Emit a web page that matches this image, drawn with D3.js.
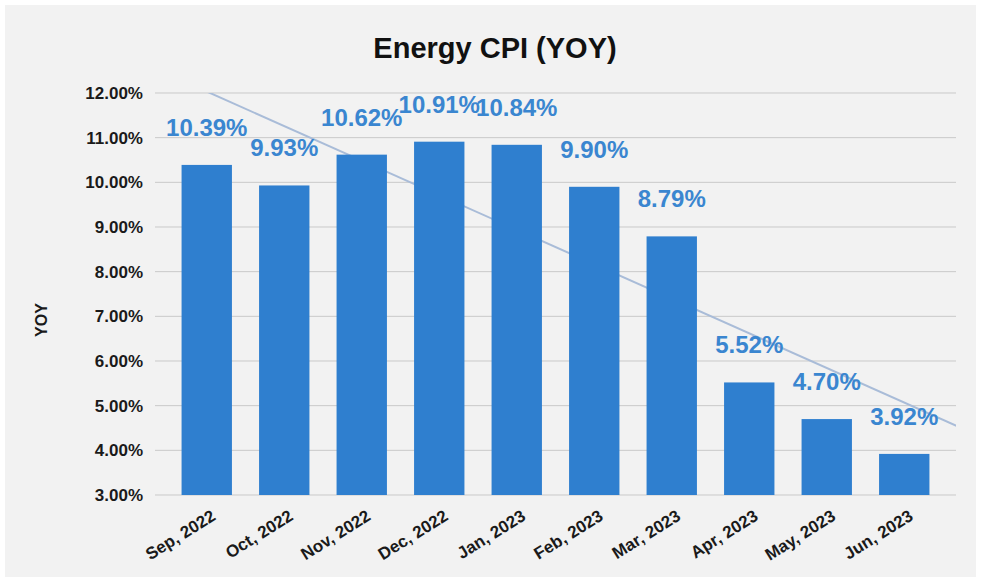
<!DOCTYPE html>
<html>
<head>
<meta charset="utf-8">
<script src="https://cdn.jsdelivr.net/npm/d3@7"></script>
<style>
  body { margin: 0; background: #fff; }
  text { font-family: "Liberation Sans", Arial, sans-serif; }
</style>
</head>
<body>
<div id="chart"></div>
<script>
// data
const months = ["Sep, 2022", "Oct, 2022", "Nov, 2022", "Dec, 2022", "Jan, 2023",
  "Feb, 2023", "Mar, 2023", "Apr, 2023", "May, 2023", "Jun, 2023"];
const yoy = [10.39, 9.93, 10.62, 10.91, 10.84, 9.90, 8.79, 5.52, 4.70, 3.92];
const yTicks = [3, 4, 5, 6, 7, 8, 9, 10, 11, 12];

const width = 981, height = 582;
const barColor = "#2f7fcf", labelColor = "#3a86d0";

const svg = d3.select("#chart").append("svg")
  .attr("width", width)
  .attr("height", height);

svg.append("rect")
  .attr("x", 5).attr("y", 5)
  .attr("width", width - 10).attr("height", height - 10)
  .attr("fill", "#f2f2f2");

const x = d3.scaleBand()
  .domain(months)
  .range([168, 943])
  .paddingInner(0.35)
  .paddingOuter(0.175);

const y = d3.scaleLinear()
  .domain([3, 12])
  .range([495, 93]);

const gridLeft = 155, gridRight = 956;

// gridlines
svg.append("g")
  .selectAll("line")
  .data(yTicks)
  .join("line")
  .attr("x1", gridLeft).attr("x2", gridRight)
  .attr("y1", d => y(d)).attr("y2", d => y(d))
  .attr("stroke", "#c9c9c9")
  .attr("stroke-width", 1);

// y axis labels
const yAxis = svg.append("g")
  .attr("transform", "translate(146,0)")
  .call(d3.axisLeft(y).tickValues(yTicks).tickSize(0).tickFormat(d => d.toFixed(2) + "%"));
yAxis.select(".domain").remove();
yAxis.selectAll("text")
  .attr("font-size", 17)
  .attr("font-weight", "bold")
  .attr("fill", "#1a1a1a")
  .attr("font-family", "Liberation Sans, Arial, sans-serif");

// linear trendline (least squares on the bar values), drawn behind the bars
const n = yoy.length;
const mx = d3.mean(yoy, (d, i) => i), my = d3.mean(yoy);
const slope = d3.sum(yoy, (d, i) => (i - mx) * (d - my)) / d3.sum(yoy, (d, i) => (i - mx) * (i - mx));
const icpt = my - slope * mx;
const step = x.step();
const cx = i => x(months[0]) + x.bandwidth() / 2 + i * step;

svg.append("clipPath").attr("id", "plot-clip")
  .append("rect")
  .attr("x", gridLeft).attr("y", y(12))
  .attr("width", gridRight - gridLeft).attr("height", y(3) - y(12));

const trendIdx = [-0.5, n - 1 + 0.7];
svg.append("path")
  .attr("clip-path", "url(#plot-clip)")
  .attr("d", d3.line().x(d => cx(d)).y(d => y(icpt + slope * d))(trendIdx))
  .attr("fill", "none")
  .attr("stroke", "#a9bcd8")
  .attr("stroke-width", 2);

// bars
svg.append("g")
  .selectAll("rect")
  .data(yoy)
  .join("rect")
  .attr("x", (d, i) => x(months[i]))
  .attr("y", d => y(d))
  .attr("width", x.bandwidth())
  .attr("height", d => y(3) - y(d))
  .attr("fill", barColor);

// value labels
svg.append("g")
  .selectAll("text")
  .data(yoy)
  .join("text")
  .attr("x", (d, i) => x(months[i]) + x.bandwidth() / 2)
  .attr("y", d => y(d) - 29)
  .attr("text-anchor", "middle")
  .attr("font-size", 24)
  .attr("font-weight", "bold")
  .attr("fill", labelColor)
  .text(d => d.toFixed(2) + "%");

// x axis
const xAxis = svg.append("g")
  .attr("transform", "translate(0,495)")
  .call(d3.axisBottom(x).tickSize(0));
xAxis.select(".domain").remove();
xAxis.selectAll("text")
  .attr("font-size", 17)
  .attr("font-weight", "bold")
  .attr("fill", "#1a1a1a")
  .attr("font-family", "Liberation Sans, Arial, sans-serif")
  .attr("text-anchor", "end")
  .attr("y", 0)
  .attr("dy", 0)
  .attr("transform", "translate(10,24) rotate(-32)");

// title
svg.append("text")
  .attr("x", 495).attr("y", 58)
  .attr("text-anchor", "middle")
  .attr("font-size", 29)
  .attr("font-weight", "bold")
  .attr("fill", "#111")
  .text("Energy CPI (YOY)");

// y axis title
svg.append("text")
  .attr("transform", "translate(47,320) rotate(-90)")
  .attr("text-anchor", "middle")
  .attr("font-size", 16)
  .attr("font-weight", "bold")
  .attr("fill", "#1a1a1a")
  .text("YOY");
</script>
</body>
</html>
